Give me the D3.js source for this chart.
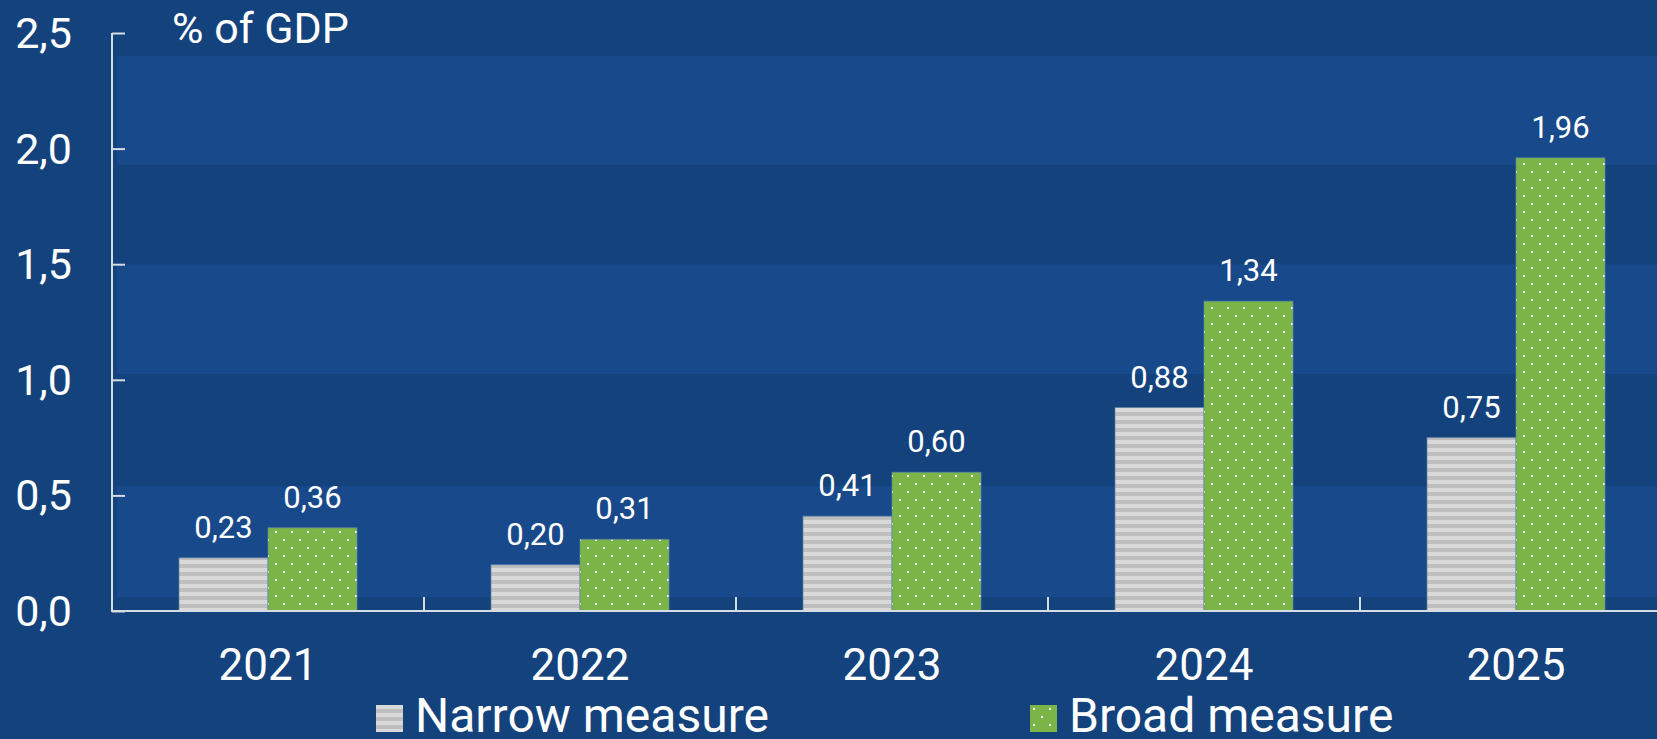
<!DOCTYPE html>
<html>
<head>
<meta charset="utf-8">
<script src="https://cdn.jsdelivr.net/npm/d3@7"></script>
<style>
  html, body { margin: 0; padding: 0; background: #13427d; }
  svg { display: block; font-family: Roboto, "Noto Sans", sans-serif; }
</style>
</head>
<body>
<svg id="chart" width="1657" height="739"></svg>
<script>
// Data
const years = ["2021", "2022", "2023", "2024", "2025"];
const narrowMeasure = [0.23, 0.20, 0.41, 0.88, 0.75];
const broadMeasure = [0.36, 0.31, 0.60, 1.34, 1.96];
const seriesNames = ["Narrow measure", "Broad measure"];
const yTicks = [0, 0.5, 1.0, 1.5, 2.0, 2.5];
const unitLabel = "% of GDP";
// lighter background stripes, in axis units
const stripeBands = [[0.06, 0.54], [1.025, 1.50], [1.93, 2.40]];

// Layout
const W = 1657, H = 739;
const plot = { left: 112, top: 33, bottom: 611, bandWidth: 312 };
const colors = { bg: "#13427d", stripe: "#17498b", axis: "#d6dbe4", text: "#ffffff",
                 green: "#7bb547", dot: "#ffffff", grayLight: "#d9d9d9", grayDark: "#bebebe" };

const svg = d3.select("#chart");
const defs = svg.append("defs");

// Narrow measure: horizontal gray stripes
const pStripe = defs.append("pattern").attr("id", "pat-narrow")
  .attr("patternUnits", "userSpaceOnUse").attr("width", 8).attr("height", 8);
pStripe.append("rect").attr("width", 8).attr("height", 8).attr("fill", colors.grayLight);
pStripe.append("rect").attr("y", 4).attr("width", 8).attr("height", 4).attr("fill", colors.grayDark);

// Broad measure: green with staggered white dots
const pDots = defs.append("pattern").attr("id", "pat-broad")
  .attr("patternUnits", "userSpaceOnUse").attr("width", 16).attr("height", 16);
pDots.append("rect").attr("width", 16).attr("height", 16).attr("fill", colors.green);
pDots.append("rect").attr("x", 3).attr("y", 3).attr("width", 2).attr("height", 2).attr("fill", colors.dot);
pDots.append("rect").attr("x", 11).attr("y", 11).attr("width", 2).attr("height", 2).attr("fill", colors.dot);

const fills = ["url(#pat-narrow)", "url(#pat-broad)"];

svg.append("rect").attr("width", W).attr("height", H).attr("fill", colors.bg);

// Scales
const x0 = d3.scaleBand().domain(years)
  .range([plot.left, plot.left + plot.bandWidth * years.length]).padding(0);
const groupW = 178;
const x1 = d3.scaleBand().domain(seriesNames)
  .range([(x0.bandwidth() - groupW) / 2, (x0.bandwidth() + groupW) / 2]).padding(0);
const y = d3.scaleLinear().domain([0, 2.5]).range([plot.bottom, plot.top]);

const commaFmt = f => v => d3.format(f)(v).replace(".", ",");

// Background stripes
svg.append("g").selectAll("rect").data(stripeBands).join("rect")
  .attr("x", plot.left + 5).attr("width", W - plot.left - 5)
  .attr("y", d => y(d[1])).attr("height", d => y(d[0]) - y(d[1]))
  .attr("fill", colors.stripe);

// Bars
const rows = years.map((yr, i) => ({ year: yr, values: [narrowMeasure[i], broadMeasure[i]] }));
const groups = svg.append("g").selectAll("g").data(rows).join("g")
  .attr("transform", d => `translate(${x0(d.year)},0)`);

groups.selectAll("rect").data(d => d.values.map((v, k) => ({ v, k })))
  .join("rect")
  .attr("x", d => x1(seriesNames[d.k]))
  .attr("width", x1.bandwidth())
  .attr("y", d => y(d.v))
  .attr("height", d => y(0) - y(d.v))
  .attr("fill", d => fills[d.k])
  .attr("stroke", "#5f86a8").attr("stroke-width", 1).attr("stroke-opacity", 0.7);

groups.selectAll("text").data(d => d.values.map((v, k) => ({ v, k })))
  .join("text")
  .attr("x", d => x1(seriesNames[d.k]) + x1.bandwidth() / 2)
  .attr("y", d => y(d.v) - 20)
  .attr("text-anchor", "middle")
  .attr("fill", colors.text)
  .attr("font-size", 31)
  .text(d => commaFmt(".2f")(d.v));

// Y axis
const yAxis = svg.append("g").attr("transform", `translate(${plot.left},0)`)
  .call(d3.axisRight(y).tickValues(yTicks).tickSize(13).tickFormat(""));
yAxis.select(".domain").attr("stroke", colors.axis).attr("stroke-width", 2)
  .attr("d", `M0,${plot.top}V${plot.bottom}`);
yAxis.selectAll(".tick line").attr("stroke", colors.axis).attr("stroke-width", 2);

svg.append("g").selectAll("text").data(yTicks).join("text")
  .attr("x", 72).attr("y", d => y(d) + 15)
  .attr("text-anchor", "end").attr("fill", colors.text).attr("font-size", 43)
  .text(d => commaFmt(".1f")(d));

svg.append("text").attr("x", 172).attr("y", 43)
  .attr("fill", colors.text).attr("font-size", 43).text(unitLabel);

// X axis: category-boundary ticks pointing up
const xAxis = svg.append("g").attr("transform", `translate(0,${plot.bottom})`);
xAxis.append("line").attr("x1", plot.left - 1).attr("x2", W)
  .attr("stroke", colors.axis).attr("stroke-width", 2);
xAxis.selectAll("line.sep").data(years.slice(1)).join("line").attr("class", "sep")
  .attr("x1", d => x0(d)).attr("x2", d => x0(d))
  .attr("y1", 0).attr("y2", -14)
  .attr("stroke", colors.axis).attr("stroke-width", 2);
xAxis.selectAll("text").data(years).join("text")
  .attr("x", d => x0(d) + x0.bandwidth() / 2).attr("y", 69)
  .attr("text-anchor", "middle").attr("fill", colors.text).attr("font-size", 44)
  .text(d => d);

// Legend
const legendItems = [
  { name: seriesNames[0], fill: fills[0], x: 376 },
  { name: seriesNames[1], fill: fills[1], x: 1030 }
];
const lg = svg.append("g").selectAll("g").data(legendItems).join("g")
  .attr("transform", d => `translate(${d.x},705)`);
lg.append("rect").attr("width", 27).attr("height", 27).attr("fill", d => d.fill);
lg.append("text").attr("x", 39).attr("y", 27)
  .attr("fill", colors.text).attr("font-size", 48).text(d => d.name);
</script>
</body>
</html>
